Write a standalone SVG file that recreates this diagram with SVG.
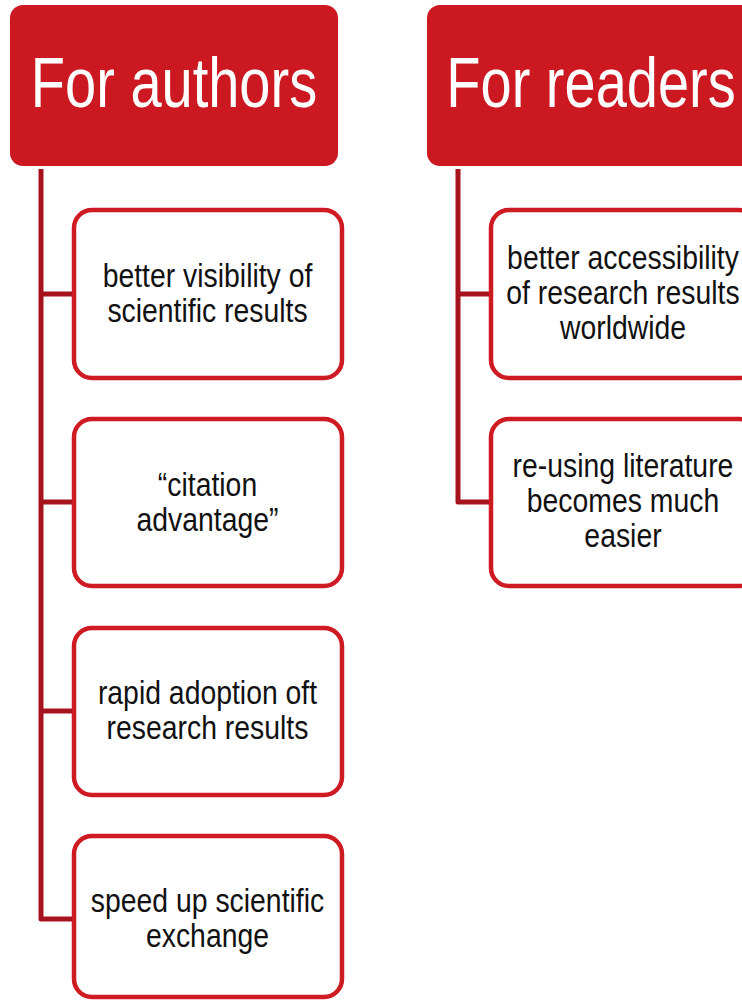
<svg xmlns="http://www.w3.org/2000/svg" width="742" height="1000" viewBox="0 0 742 1000">
<style>
.hdr{fill:#CC1820}
.box{fill:#fff;stroke:#CE1A22;stroke-width:4.5}
.conn{fill:none;stroke:#A5131C;stroke-width:5;stroke-linejoin:round}
.ht{font-family:"Liberation Sans",Arial,sans-serif;font-size:70px;fill:#fff;text-anchor:middle}
.bt{font-family:"Liberation Sans",Arial,sans-serif;font-size:33px;fill:#111;text-anchor:middle}
</style>
<rect width="742" height="1000" fill="#fff"/>
<g id="connectors">
<path class="conn" d="M41 169 V919 H74 M41 294 H74 M41 502 H74 M41 711 H74"/>
<path class="conn" d="M458 169 V502 H491 M458 294 H491"/>
</g>
<g id="authors">
<rect class="hdr" x="10" y="5" width="328" height="161" rx="13"/>
<g transform="translate(174 0) scale(0.8 1)"><text class="ht" x="0" y="107">For authors</text></g>
</g>
<g id="readers">
<rect class="hdr" x="427" y="5" width="328" height="161" rx="13"/>
<g transform="translate(591 0) scale(0.8 1)"><text class="ht" x="0" y="107">For readers</text></g>
</g>
<g id="a1">
<rect class="box" x="74" y="210" width="268" height="168" rx="18"/>
<g transform="translate(207.5 0) scale(0.86 1)"><text class="bt" x="0" y="287">better visibility of</text><text class="bt" x="0" y="322">scientific results</text></g>
</g>
<g id="a2">
<rect class="box" x="74" y="419" width="268" height="167" rx="18"/>
<g transform="translate(207.5 0) scale(0.86 1)"><text class="bt" x="0" y="496">“citation</text><text class="bt" x="0" y="531">advantage”</text></g>
</g>
<g id="a3">
<rect class="box" x="74" y="628" width="268" height="167" rx="18"/>
<g transform="translate(207.5 0) scale(0.86 1)"><text class="bt" x="0" y="704">rapid adoption oft</text><text class="bt" x="0" y="739">research results</text></g>
</g>
<g id="a4">
<rect class="box" x="74" y="836" width="268" height="161" rx="18"/>
<g transform="translate(207.5 0) scale(0.86 1)"><text class="bt" x="0" y="912">speed up scientific</text><text class="bt" x="0" y="947">exchange</text></g>
</g>
<g id="r1">
<rect class="box" x="491" y="210" width="266" height="168" rx="18"/>
<g transform="translate(623 0) scale(0.86 1)"><text class="bt" x="0" y="269">better accessibility</text><text class="bt" x="0" y="304">of research results</text><text class="bt" x="0" y="339">worldwide</text></g>
</g>
<g id="r2">
<rect class="box" x="491" y="419" width="266" height="167" rx="18"/>
<g transform="translate(623 0) scale(0.86 1)"><text class="bt" x="0" y="477">re-using literature</text><text class="bt" x="0" y="512">becomes much</text><text class="bt" x="0" y="547">easier</text></g>
</g>
</svg>
